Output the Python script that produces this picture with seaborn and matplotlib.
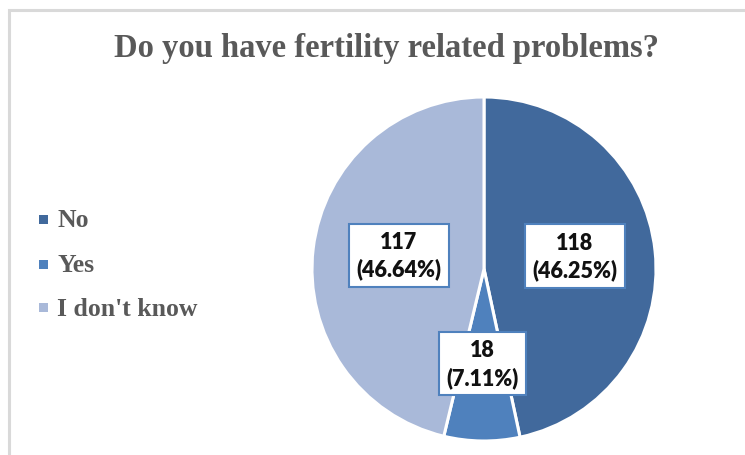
import matplotlib
matplotlib.use("Agg")
import matplotlib.pyplot as plt
from matplotlib.patches import Rectangle
import numpy as np
import seaborn as sns

# Survey answers
categories = ["No", "Yes", "I don't know"]
counts = [118, 18, 117]
pct_labels = ["46.25%", "7.11%", "46.64%"]
colors = ["#41699C", "#4F81BD", "#A9B9D9"]

title = "Do you have fertility related problems?"

sns.set_theme(style="white")
plt.rcParams["font.family"] = ["Liberation Serif", "DejaVu Serif"]

W, H = 745, 456
fig = plt.figure(figsize=(W / 100, H / 100), dpi=100)
fig.patch.set_facecolor("white")

# chart frame (runs off the right and bottom edges)
fig.patches.append(Rectangle((9 / W, -0.1), 1.2, (H - 11) / H + 0.1,
                             transform=fig.transFigure, fill=False,
                             edgecolor="#D9D9D9", linewidth=2.2))

fig.text(386 / W, 1 - 48 / H, title, ha="center", va="center",
         fontsize=23.5, fontweight="bold", color="#595959")

# pie
cx, cy, r = 484, 270, 172
ax = fig.add_axes([(cx - r) / W, (H - cy - r) / H, 2 * r / W, 2 * r / H])
wedges, _ = ax.pie(counts, colors=sns.color_palette(colors), startangle=90,
                   counterclock=False,
                   wedgeprops=dict(edgecolor="white", linewidth=2.2))
ax.set_xlim(-1, 1)
ax.set_ylim(-1, 1)
ax.set_aspect("equal")
ax.axis("off")

label_r = [0.53, 0.57, 0.50]
for w, n, p, lr in zip(wedges, counts, pct_labels, label_r):
    ang = np.deg2rad((w.theta1 + w.theta2) / 2)
    ax.text(lr * np.cos(ang), lr * np.sin(ang) + 0.02, f"{n}\n({p})",
            ha="center", va="center", fontsize=15.5, fontweight="heavy",
            family=["Lato", "DejaVu Sans"], color="#111111", linespacing=1.3,
            bbox=dict(boxstyle="square,pad=0.35", facecolor="white",
                      edgecolor="#4F81BD", linewidth=1.5))

# legend
leg_y = [221, 266, 309]
for cat, col, y in zip(categories, colors, leg_y):
    fig.patches.append(Rectangle((39 / W, 1 - (y + 4) / H), 9 / W, 9 / H,
                                 transform=fig.transFigure, facecolor=col,
                                 edgecolor="none"))
    fig.text(57 / W, 1 - y / H, cat, ha="left", va="center",
             fontsize=18.5, fontweight="bold", color="#595959")

fig.savefig("out.png", dpi=100, facecolor="white")
